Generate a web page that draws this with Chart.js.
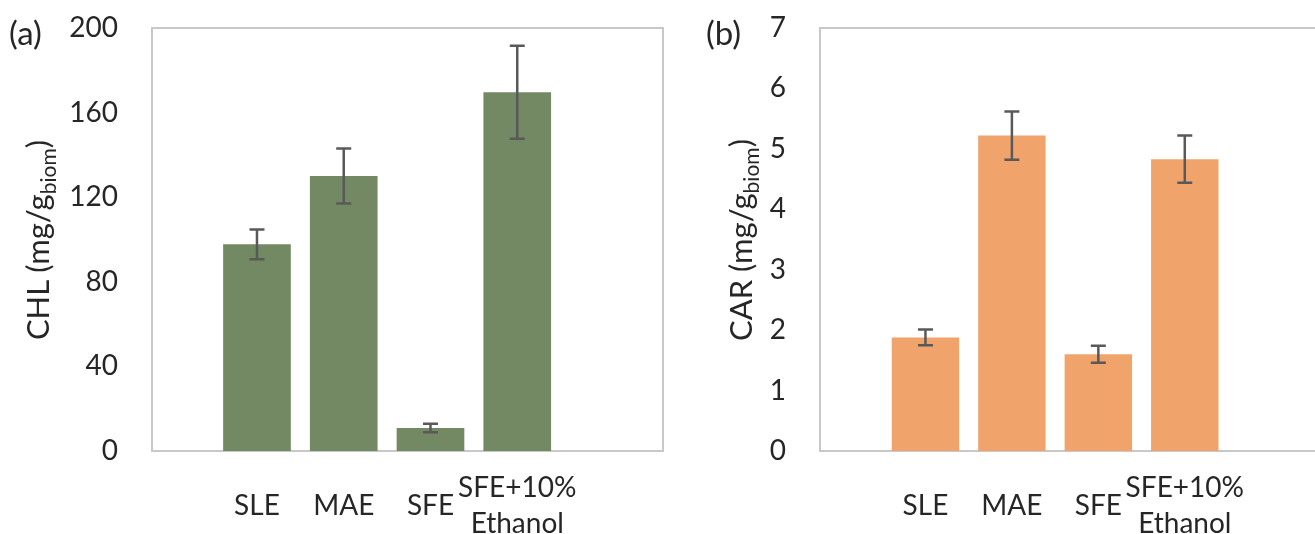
<!DOCTYPE html>
<html>
<head>
<meta charset="utf-8">
<script src="https://cdn.jsdelivr.net/npm/chart.js@4/dist/chart.umd.min.js"></script>
<style>
  html, body { margin: 0; padding: 0; background: #ffffff; }
  #wrap { position: relative; width: 1315px; height: 534px; overflow: hidden; font-family: Lato, sans-serif; color: #262626; }
  .panel { position: absolute; top: 0; height: 534px; }
  .tag { position: absolute; font-size: 33px; line-height: 1; }
  .ytitle { position: absolute; font-size: 31px; line-height: 1; white-space: nowrap; transform: translate(-50%, -50%) rotate(-90deg); }
  .ytitle sub { font-size: 0.68em; vertical-align: -0.3em; line-height: 1; }
</style>
</head>
<body>
<div id="wrap">
  <div class="panel" style="left:0; width:680px;"><canvas id="chl"></canvas></div>
  <div class="panel" style="left:690px; width:660px;"><canvas id="car"></canvas></div>
  <div class="tag" style="left:9px; top:16px;">(a)</div>
  <div class="tag" style="left:706px; top:16px;">(b)</div>
  <div class="ytitle" style="left:40px; top:240px;">CHL (mg/g<sub>biom</sub>)</div>
  <div class="ytitle" style="left:743px; top:240px;">CAR (mg/g<sub>biom</sub>)</div>
</div>
<script>
// categories
const metodos = ['SLE', 'MAE', 'SFE', ['SFE+10%', 'Ethanol']]
const posiciones = [1, 2, 3, 4]

// chlorophyll (panel a)
const chlValores = [97.7, 130, 10.9, 169.6]
const chlErrores = [7, 13, 2, 22]
const chlTicks = [0, 40, 80, 120, 160, 200]

// carotenoids (panel b)
const carValores = [1.88, 5.22, 1.6, 4.83]
const carErrores = [0.13, 0.4, 0.14, 0.39]
const carTicks = [0, 1, 2, 3, 4, 5, 6, 7]

Chart.defaults.font.family = 'Lato, sans-serif'
Chart.defaults.color = '#262626'

// box around the plot area
const marco = {
    id: 'marco',
    beforeDatasetsDraw: (chart) => {
        const { ctx, chartArea } = chart
        ctx.save()
        ctx.strokeStyle = '#c8c8c8'
        ctx.lineWidth = 2
        ctx.strokeRect(chartArea.left, chartArea.top, chartArea.right - chartArea.left, chartArea.bottom - chartArea.top)
        ctx.restore()
    }
}

// error bars from the errores array of each dataset
const barrasError = {
    id: 'barrasError',
    afterDatasetsDraw: (chart) => {
        const { ctx } = chart
        const yScale = chart.scales.y
        chart.data.datasets.forEach((ds, i) => {
            const meta = chart.getDatasetMeta(i)
            meta.data.forEach((bar, j) => {
                const v = ds.data[j].y
                const e = ds.errores[j]
                const top = yScale.getPixelForValue(v + e)
                const bottom = yScale.getPixelForValue(v - e)
                ctx.save()
                ctx.strokeStyle = '#595959'
                ctx.lineWidth = 2.5
                ctx.beginPath()
                ctx.moveTo(bar.x, top)
                ctx.lineTo(bar.x, bottom)
                ctx.moveTo(bar.x - 7.5, top)
                ctx.lineTo(bar.x + 7.5, top)
                ctx.moveTo(bar.x - 7.5, bottom)
                ctx.lineTo(bar.x + 7.5, bottom)
                ctx.stroke()
                ctx.restore()
            })
        })
    }
}

const grafica = (lugar, valores, errores, ticks, color, xMin, xMax, padDerecha, anchoY) => {

    const datos = valores.map((v, i) => { return { x: posiciones[i], y: v } })

    const config = {
        type: 'bar',
        data: {
            datasets: [{
                data: datos,
                errores: errores,
                backgroundColor: color,
                borderWidth: 0,
                categoryPercentage: 1,
                barPercentage: 0.78
            }]
        },
        options: {
            responsive: false,
            animation: false,
            layout: { padding: { left: 0, right: padDerecha, top: 28, bottom: 0 } },
            plugins: { legend: { display: false }, tooltip: { enabled: false } },
            scales: {
                x: {
                    type: 'linear',
                    offset: false,
                    min: xMin,
                    max: xMax,
                    grid: { display: false, drawTicks: false, offset: false },
                    border: { display: false },
                    afterBuildTicks: (scale) => { scale.ticks = posiciones.map((p) => { return { value: p } }) },
                    afterFit: (scale) => { scale.height = 83 },
                    ticks: {
                        autoSkip: false,
                        maxRotation: 0,
                        padding: 37,
                        crossAlign: 'center',
                        font: { size: 28, lineHeight: 1.28 },
                        callback: (value) => metodos[posiciones.indexOf(value)]
                    }
                },
                y: {
                    min: ticks[0],
                    max: ticks[ticks.length - 1],
                    // tick marks hidden, their length only pushes the labels left
                    grid: { display: false, drawTicks: true, tickLength: 34 },
                    border: { display: false },
                    afterBuildTicks: (scale) => { scale.ticks = ticks.map((t) => { return { value: t } }) },
                    afterFit: (scale) => { scale.width = anchoY },
                    ticks: {
                        padding: 0,
                        font: { size: 28 }
                    }
                }
            }
        },
        plugins: [marco, barrasError]
    }

    return new Chart(lugar, config)
}

const cvA = document.getElementById('chl')
cvA.width = 680
cvA.height = 534
const cvB = document.getElementById('car')
cvB.width = 660
cvB.height = 534

window.graficaA = grafica(cvA, chlValores, chlErrores, chlTicks, '#728963', -0.21, 5.68, 17, 152)
window.graficaB = grafica(cvB, carValores, carErrores, carTicks, '#f0a46c', -0.22, 5.68, 20, 130)
</script>
</body>
</html>
